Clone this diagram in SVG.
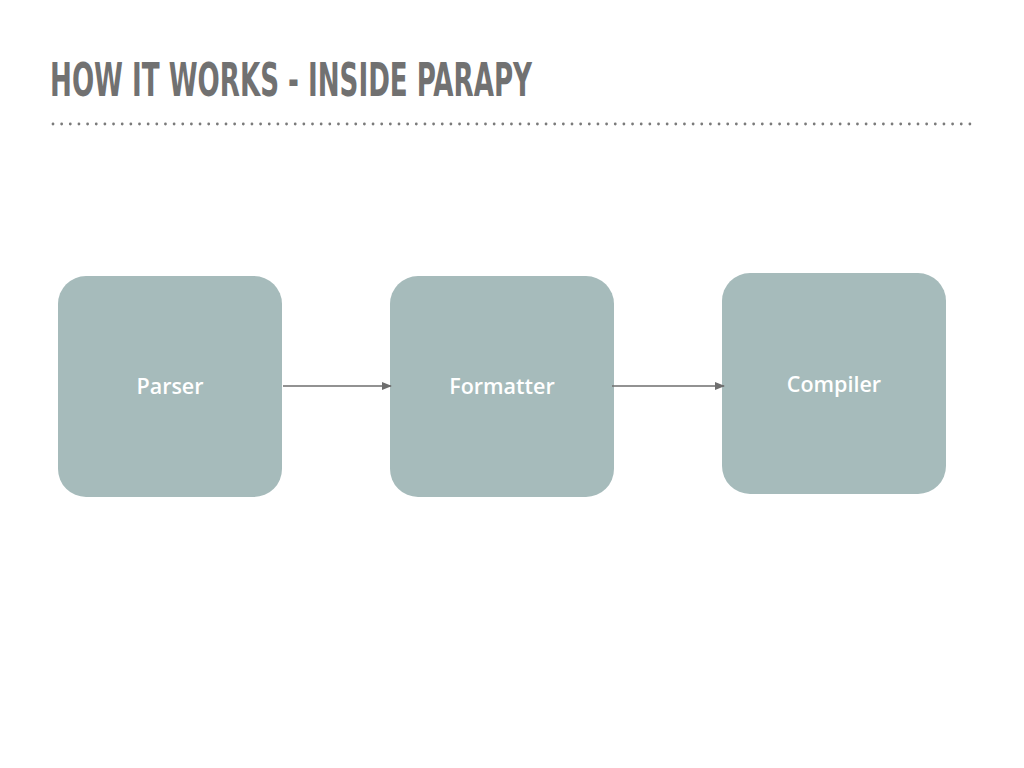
<svg xmlns="http://www.w3.org/2000/svg" width="1024" height="768" viewBox="0 0 1024 768">
<style>
.box{fill:#a6bbbb}
.lbl{font-family:"Open Sans","DejaVu Sans",sans-serif;font-weight:600;font-size:21.5px;fill:#ffffff;text-anchor:middle}
.title{font-family:"DejaVu Sans Condensed","DejaVu Sans",sans-serif;font-weight:bold;font-size:46px;fill:#717171}
.conn{stroke:#6e6e6e;stroke-width:1.6;fill:none}
</style>
<defs>
<marker id="arr" viewBox="0 0 10 10" refX="9" refY="5" markerWidth="10" markerHeight="10" orient="auto" markerUnits="userSpaceOnUse">
<path d="M0,1 L10,5 L0,9 z" fill="#6e6e6e"/>
</marker>
</defs>
<rect width="1024" height="768" fill="#ffffff"/>
<text class="title" x="50" y="96" textLength="482" lengthAdjust="spacingAndGlyphs">HOW IT WORKS - INSIDE PARAPY</text>
<line x1="53" y1="124" x2="973" y2="124" stroke="#7a7a7a" stroke-width="2.8" stroke-linecap="round" stroke-dasharray="0 8.65"/>
<g id="parser"><rect class="box" x="58" y="276" width="224" height="221" rx="28"/><text class="lbl" x="170" y="394">Parser</text></g>
<g id="formatter"><rect class="box" x="390" y="276" width="224" height="221" rx="28"/><text class="lbl" x="502" y="394">Formatter</text></g>
<g id="compiler"><rect class="box" x="722" y="273" width="224" height="221" rx="28"/><text class="lbl" x="834" y="392">Compiler</text></g>
<g id="connectors">
<line class="conn" x1="283" y1="386" x2="391" y2="386" marker-end="url(#arr)"/>
<line class="conn" x1="612" y1="386" x2="724" y2="386" marker-end="url(#arr)"/>
</g>
</svg>
